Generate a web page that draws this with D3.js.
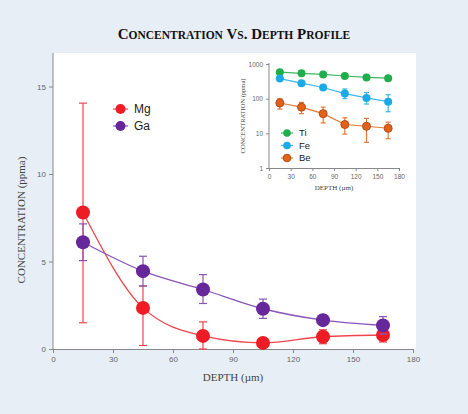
<!DOCTYPE html><html><head><meta charset="utf-8">
<script src="https://cdn.jsdelivr.net/npm/d3@7"></script>
<style>body{margin:0;background:#e8eef5}svg{display:block}</style></head><body>
<svg id="c" width="468" height="414"></svg>
<script>
const depth=[15,45,75,105,135,165];
const mg=[7.8,2.35,0.75,0.35,0.7,0.8], mgLo=[1.5,0.2,0,0.3,0.3,0.4], mgHi=[14.05,3.6,1.55,0.4,1.1,1.3];
const ga=[6.1,4.45,3.4,2.3,1.65,1.35], gaLo=[5.05,3.6,2.6,1.75,1.4,0.85], gaHi=[7.15,5.3,4.25,2.85,1.95,1.85];
const ti=[580,540,500,450,410,390], tiLo=[540,500,465,420,380,360], tiHi=[620,580,540,480,440,420];
const fe=[380,280,210,140,105,82], feLo=[340,250,180,100,70,42], feHi=[420,310,240,190,150,130];
const be=[75,57,37,18,16,14], beLo=[50,37,20,9.5,5.5,7], beHi=[100,78,57,28,27,21];
const xTicks=[0,30,60,90,120,150,180], yTicks=[0,5,10,15], yLogTicks=[1,10,100,1000];

const svg=d3.select("#c");
svg.append("rect").attr("x",53).attr("y",53).attr("width",363).attr("height",296).attr("fill","#fff");
svg.append("text").attr("x",234).attr("y",39).attr("text-anchor","middle").attr("font-family","Liberation Serif").attr("font-weight","bold").attr("font-size",15).attr("fill","#111")
 .html('C<tspan font-size="11.5">ONCENTRATION</tspan> V<tspan font-size="11.5">S</tspan>. D<tspan font-size="11.5">EPTH</tspan> P<tspan font-size="11.5">ROFILE</tspan>');

function panel(g,x,y,series,opt){
  const xa=g.append("g").attr("transform",`translate(0,${y.range()[0]})`).call(d3.axisBottom(x).tickValues(xTicks).tickSize(opt.tk).tickSizeOuter(0));
  const ya=g.append("g").attr("transform",`translate(${x.range()[0]},0)`).call(d3.axisLeft(y).tickValues(opt.yt).tickFormat(d3.format("d")).tickSize(opt.tk).tickSizeOuter(0));
  [xa,ya].forEach(a=>{a.selectAll("path,line").attr("stroke","#888");a.selectAll("text").attr("fill","#666").attr("font-family","Liberation Sans").attr("font-size",opt.fs);});
  ya.select(".domain").attr("d",`M0,${y.range()[0]}V${opt.ytop}`);
  series.forEach(s=>{
    const line=d3.line().x((d,i)=>x(depth[i])).y(d=>y(d)).curve(opt.curve);
    g.append("path").attr("d",line(s.v)).attr("fill","none").attr("stroke",s.lc).attr("stroke-width",opt.lw);
    depth.forEach((d,i)=>{
      const cx=x(d);
      g.append("line").attr("x1",cx).attr("x2",cx).attr("y1",y(s.lo[i])).attr("y2",y(s.hi[i])).attr("stroke",s.lc).attr("stroke-width",1.2);
      [s.lo[i],s.hi[i]].forEach(v=>g.append("line").attr("x1",cx-opt.cap).attr("x2",cx+opt.cap).attr("y1",y(v)).attr("y2",y(v)).attr("stroke",s.lc).attr("stroke-width",1.2));
    });
    depth.forEach((d,i)=>g.append("circle").attr("cx",x(d)).attr("cy",y(s.v[i])).attr("r",opt.r).attr("fill",s.c).attr("stroke",s.sc||"none").attr("stroke-width",1));
  });
}
const g1=svg.append("g");
const x1=d3.scaleLinear().domain([0,180]).range([53,413]);
const y1=d3.scaleLinear().domain([0,15]).range([349,86.5]);
panel(g1,x1,y1,[{v:mg,lo:mgLo,hi:mgHi,c:"#ee1c25",lc:"#f0454c"},{v:ga,lo:gaLo,hi:gaHi,c:"#66279a",lc:"#8a55b8"}],{tk:4,fs:8,yt:yTicks,ytop:53,curve:d3.curveMonotoneX,lw:1.3,cap:4,r:7});
const g2=svg.append("g");
const x2=d3.scaleLinear().domain([0,180]).range([269,399]);
const y2=d3.scaleLog().domain([1,1000]).range([168,64]);
panel(g2,x2,y2,[{v:ti,lo:tiLo,hi:tiHi,c:"#1fae4b",lc:"#3cb862"},{v:fe,lo:feLo,hi:feHi,c:"#1ba9e8",lc:"#3db6ec"},{v:be,lo:beLo,hi:beHi,c:"#e0621b",lc:"#e07a38",sc:"#b84a10"}],{tk:3,fs:6.5,yt:yLogTicks,ytop:63,curve:d3.curveLinear,lw:1.2,cap:2.5,r:4});

function legend(items,x,y,dy,r,fs,len){
  items.forEach((it,i)=>{const yy=y+i*dy;
    svg.append("line").attr("x1",x).attr("x2",x+len).attr("y1",yy).attr("y2",yy).attr("stroke",it.lc).attr("stroke-width",1.2);
    svg.append("circle").attr("cx",x+len/2).attr("cy",yy).attr("r",r).attr("fill",it.c).attr("stroke",it.sc||"none");
    svg.append("text").attr("x",x+len+6).attr("y",yy+fs*0.36).attr("font-family","Liberation Sans").attr("font-size",fs).attr("fill","#222").text(it.t);});
}
legend([{t:"Mg",c:"#ee1c25",lc:"#f0454c"},{t:"Ga",c:"#66279a",lc:"#8a55b8"}],113,109,17,5,12,15);
legend([{t:"Ti",c:"#1fae4b",lc:"#3cb862"},{t:"Fe",c:"#1ba9e8",lc:"#3db6ec"},{t:"Be",c:"#e0621b",lc:"#e07a38",sc:"#b84a10"}],281,133,12.5,3.8,9.5,12);

svg.append("text").attr("transform","translate(25,220) rotate(-90)").attr("text-anchor","middle").attr("font-family","Liberation Serif").attr("font-size",11).attr("fill","#444").text("CONCENTRATION (ppma)");
svg.append("text").attr("x",233).attr("y",381).attr("text-anchor","middle").attr("font-family","Liberation Serif").attr("font-size",11).attr("fill","#444").text("DEPTH (µm)");
svg.append("text").attr("transform","translate(245,116) rotate(-90)").attr("text-anchor","middle").attr("font-family","Liberation Serif").attr("font-size",6.5).attr("fill","#444").text("CONCENTRATION (ppma)");
svg.append("text").attr("x",334).attr("y",190).attr("text-anchor","middle").attr("font-family","Liberation Serif").attr("font-size",7).attr("fill","#444").text("DEPTH (µm)");
</script></body></html>
